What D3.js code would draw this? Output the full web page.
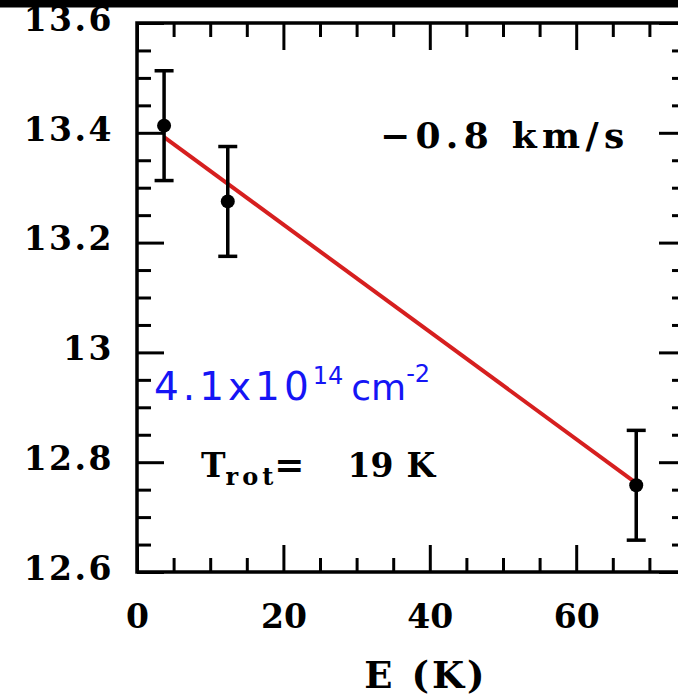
<!DOCTYPE html>
<html>
<head>
<meta charset="utf-8">
<script src="https://cdn.jsdelivr.net/npm/d3@7"></script>
<style>
  html, body { margin: 0; padding: 0; background: #fff; }
  svg { display: block; }
</style>
</head>
<body>
<svg id="chart" width="678" height="699"></svg>
<script>
// Rotation diagram: log column density per level vs upper-level energy
const energyK = [3.7, 12.4, 68.2];
const logN = [13.413, 13.275, 12.758];
const logNErr = [0.1, 0.1, 0.1];

// Linear fit endpoints (E, log N)
const fitE = [3.7, 68.2];
const fitLogN = [13.392, 12.762];

const xMajorTicks = [0, 20, 40, 60];
const yMajorTicks = [12.6, 12.8, 13.0, 13.2, 13.4, 13.6];
const yTickLabels = ["12.6", "12.8", "13", "13.2", "13.4", "13.6"];

const svg = d3.select("#chart");
const W = 678, H = 699;
const plot = { left: 137, right: 686, top: 23, bottom: 572 };

const x = d3.scaleLinear().domain([0, 75]).range([plot.left, plot.right]);
const y = d3.scaleLinear().domain([12.6, 13.6]).range([plot.bottom, plot.top]);

svg.append("rect").attr("width", W).attr("height", H).attr("fill", "#fff");

const xMinor = d3.range(0, 75.01, 5).filter(v => !xMajorTicks.includes(v));
const yMinor = d3.range(12.6, 13.601, 0.05).map(v => +v.toFixed(2))
  .filter(v => !yMajorTicks.some(t => Math.abs(t - v) < 1e-6));

const MAJ = 27, MIN = 14;
const tickFont = "'DejaVu Serif', serif";

function styleAxis(g) {
  g.select(".domain").remove();
  g.selectAll(".tick line").attr("stroke", "#000").attr("stroke-width", 3);
}

// bottom axis with labels
svg.append("g").attr("transform", `translate(0,${plot.bottom})`)
  .call(d3.axisBottom(x).tickValues(xMajorTicks).tickSize(-MAJ).tickPadding(MAJ + 6).tickFormat(d3.format("d")))
  .call(styleAxis)
  .call(g => g.selectAll("text").attr("font-family", tickFont).attr("font-weight", "bold")
    .attr("font-size", 33).attr("fill", "#000"));
svg.append("g").attr("transform", `translate(0,${plot.bottom})`)
  .call(d3.axisBottom(x).tickValues(xMinor).tickSize(-MIN).tickFormat(""))
  .call(styleAxis);

// top axis
svg.append("g").attr("transform", `translate(0,${plot.top})`)
  .call(d3.axisTop(x).tickValues(xMajorTicks).tickSize(-MAJ).tickFormat(""))
  .call(styleAxis);
svg.append("g").attr("transform", `translate(0,${plot.top})`)
  .call(d3.axisTop(x).tickValues(xMinor).tickSize(-MIN).tickFormat(""))
  .call(styleAxis);

// left axis with labels
svg.append("g").attr("transform", `translate(${plot.left},0)`)
  .call(d3.axisLeft(y).tickValues(yMajorTicks).tickSize(-MAJ).tickPadding(23)
    .tickFormat((d, i) => yTickLabels[i]))
  .call(styleAxis)
  .call(g => g.selectAll("text").attr("font-family", tickFont).attr("font-weight", "bold")
    .attr("font-size", 33).attr("letter-spacing", 2.5).attr("fill", "#000").attr("dy", "0.22em"));
svg.append("g").attr("transform", `translate(${plot.left},0)`)
  .call(d3.axisLeft(y).tickValues(yMinor).tickSize(-MIN).tickFormat(""))
  .call(styleAxis);

// right axis
svg.append("g").attr("transform", `translate(${plot.right},0)`)
  .call(d3.axisRight(y).tickValues(yMajorTicks).tickSize(-MAJ).tickFormat(""))
  .call(styleAxis);
svg.append("g").attr("transform", `translate(${plot.right},0)`)
  .call(d3.axisRight(y).tickValues(yMinor).tickSize(-MIN).tickFormat(""))
  .call(styleAxis);

// frame
svg.append("rect").attr("x", plot.left).attr("y", plot.top)
  .attr("width", plot.right - plot.left).attr("height", plot.bottom - plot.top)
  .attr("fill", "none").attr("stroke", "#000").attr("stroke-width", 3.5);

// fit line
svg.append("line")
  .attr("x1", x(fitE[0])).attr("y1", y(fitLogN[0]))
  .attr("x2", x(fitE[1])).attr("y2", y(fitLogN[1]))
  .attr("stroke", "#d61f1f").attr("stroke-width", 4);

// error bars and points
const pts = energyK.map((e, i) => ({ e, v: logN[i], err: logNErr[i] }));
const eb = svg.append("g").attr("stroke", "#000").attr("stroke-width", 3.5);
pts.forEach(p => {
  eb.append("line").attr("x1", x(p.e)).attr("x2", x(p.e))
    .attr("y1", y(p.v - p.err)).attr("y2", y(p.v + p.err));
  [p.v - p.err, p.v + p.err].forEach(v => {
    eb.append("line").attr("x1", x(p.e) - 9.5).attr("x2", x(p.e) + 9.5)
      .attr("y1", y(v)).attr("y2", y(v));
  });
});
svg.append("g").selectAll("circle").data(pts).join("circle")
  .attr("cx", d => x(d.e)).attr("cy", d => y(d.v)).attr("r", 7).attr("fill", "#000");

// annotations
svg.append("text").attr("x", 380).attr("y", 148)
  .attr("font-family", tickFont).attr("font-weight", "bold").attr("font-size", 36)
  .attr("letter-spacing", 5.3).attr("fill", "#000")
  .text("\u22120.8 km/s");

const cd = svg.append("text").attr("x", 154).attr("y", 400)
  .attr("font-family", "'DejaVu Sans', sans-serif").attr("fill", "#1515f5");
cd.append("tspan").attr("font-size", 39).attr("letter-spacing", 4).text("4.1x10");
cd.append("tspan").attr("font-size", 24).attr("dy", -16).text("14");
cd.append("tspan").attr("font-size", 36).attr("dy", 16).attr("dx", 8).text("cm");
cd.append("tspan").attr("font-size", 24).attr("dy", -18).text("-2");

const tr = svg.append("text").attr("x", 201).attr("y", 477)
  .attr("font-family", tickFont).attr("font-weight", "bold").attr("font-size", 33).attr("fill", "#000");
tr.append("tspan").text("T");
tr.append("tspan").attr("font-size", 24).attr("dy", 8).attr("letter-spacing", 4).text("rot");
tr.append("tspan").attr("font-size", 36).attr("dy", -8).attr("dx", -3).text("=");
tr.append("tspan").attr("font-size", 33).attr("x", 346).text(" 19").attr("dx", -10);
tr.append("tspan").attr("x", 405).text(" K").attr("dx", -10);

// x-axis title
svg.append("text").attr("x", 426).attr("y", 688).attr("text-anchor", "middle")
  .attr("font-family", tickFont).attr("font-weight", "bold").attr("font-size", 37)
  .attr("letter-spacing", 3).attr("fill", "#000").text("E (K)");

// dark strip along the top edge
svg.append("rect").attr("x", 0).attr("y", 0).attr("width", W).attr("height", 7.5).attr("fill", "#000");
</script>
</body>
</html>
